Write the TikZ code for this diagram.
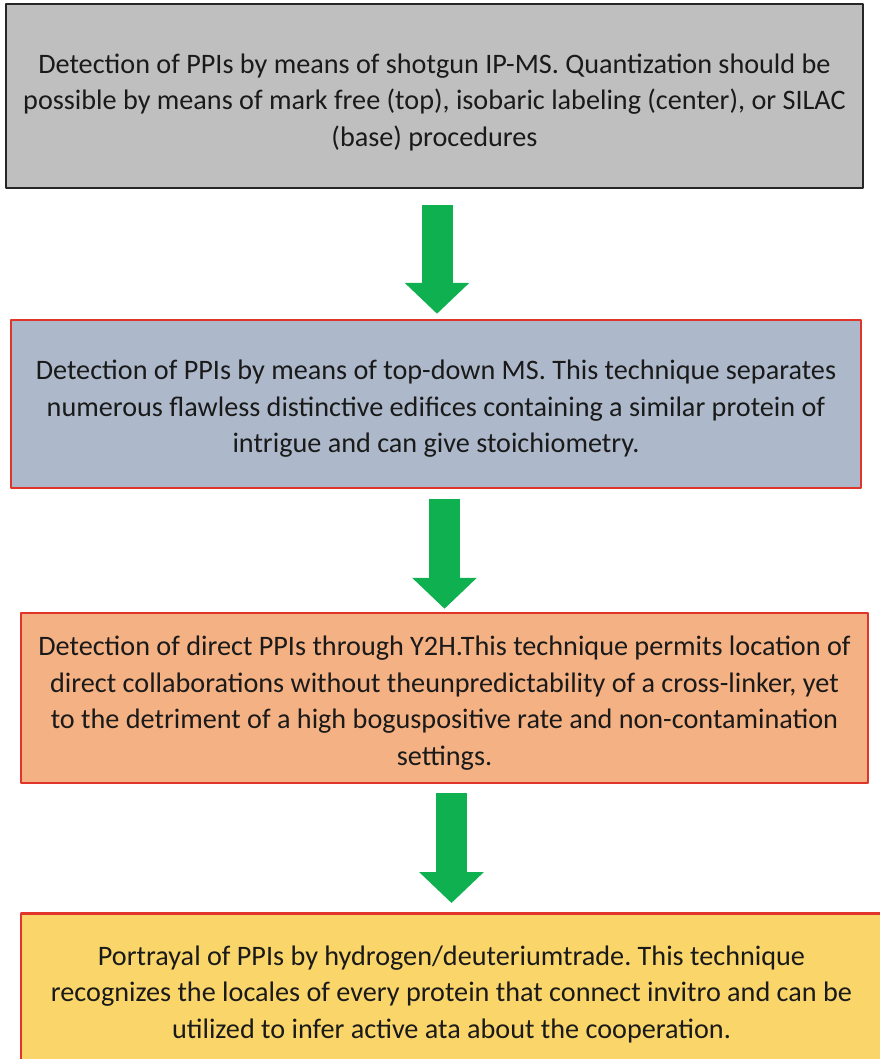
\documentclass[tikz,border=0pt]{standalone}
\usepackage{fontspec}
\setmainfont{Carlito}
\frenchspacing
\usetikzlibrary{arrows.meta}
\definecolor{boxgray}{HTML}{BFBFBF}
\definecolor{boxblue}{HTML}{ADB9CA}
\definecolor{boxorange}{HTML}{F4B183}
\definecolor{boxgold}{HTML}{FAD56A}
\definecolor{edgered}{HTML}{E0352B}
\definecolor{flowgreen}{HTML}{0FB04F}
\definecolor{ink}{HTML}{1A1A1A}
\begin{document}
\begin{tikzpicture}[x=1pt,y=-1pt,line join=round,
	font=\fontsize{28.2}{36.5}\selectfont,text=ink,
	stepbox/.style={draw=edgered,line width=2.5pt,inner sep=0pt},
	steptext/.style={align=center,inner sep=0pt},
	flow/.style={flowgreen,line width=31pt,-{Triangle[length=31pt,width=63pt]}}]
	\useasboundingbox (0,0) rectangle (879,1059);
	% the four stages
	\node[stepbox,draw=black!85,fill=boxgray,minimum width=857,minimum height=184] (b1) at (434.5,96) {};
	\node[stepbox,fill=boxblue,minimum width=850,minimum height=168] (b2) at (436,404) {};
	\node[stepbox,fill=boxorange,minimum width=847,minimum height=170] (b3) at (444.5,698) {};
	\node[stepbox,fill=boxgold,minimum width=861,minimum height=150,anchor=north] (b4) at (451.5,912) {};
	\node[steptext] (t1) at (434.5,102)
		{Detection of PPIs by means of shotgun IP-MS. Quantization should be\\possible by means of mark free (top), isobaric labeling (center), or SILAC\\(base) procedures};
	\node[steptext] (t2) at (436,409)
		{Detection of PPIs by means of top-down MS. This technique separates\\numerous flawless distinctive edifices containing a similar protein of\\intrigue and can give stoichiometry.};
	\node[steptext] (t3) at (444.5,703)
		{Detection of direct PPIs through Y2H.This technique permits location of\\direct collaborations without theunpredictability of a cross-linker, yet\\to the detriment of a high boguspositive rate and non-contamination\\settings.};
	\node[steptext] (t4) at (451.5,994)
		{Portrayal of PPIs by hydrogen/deuteriumtrade. This technique\\recognizes the locales of every protein that connect invitro and can be\\utilized to infer active ata about the cooperation.};
	% block arrows between the stages
	\draw[flow,shorten <=16pt,shorten >=5pt] (b1.south -| 437,0) -- (b2.north -| 437,0);
	\draw[flow,shorten <=10pt,shorten >=3pt] (b2.south -| b3.north) -- (b3.north);
	\draw[flow,shorten <=9pt,shorten >=9pt] (b3.south -| b4.north) -- (b4.north);
\end{tikzpicture}
\end{document}
